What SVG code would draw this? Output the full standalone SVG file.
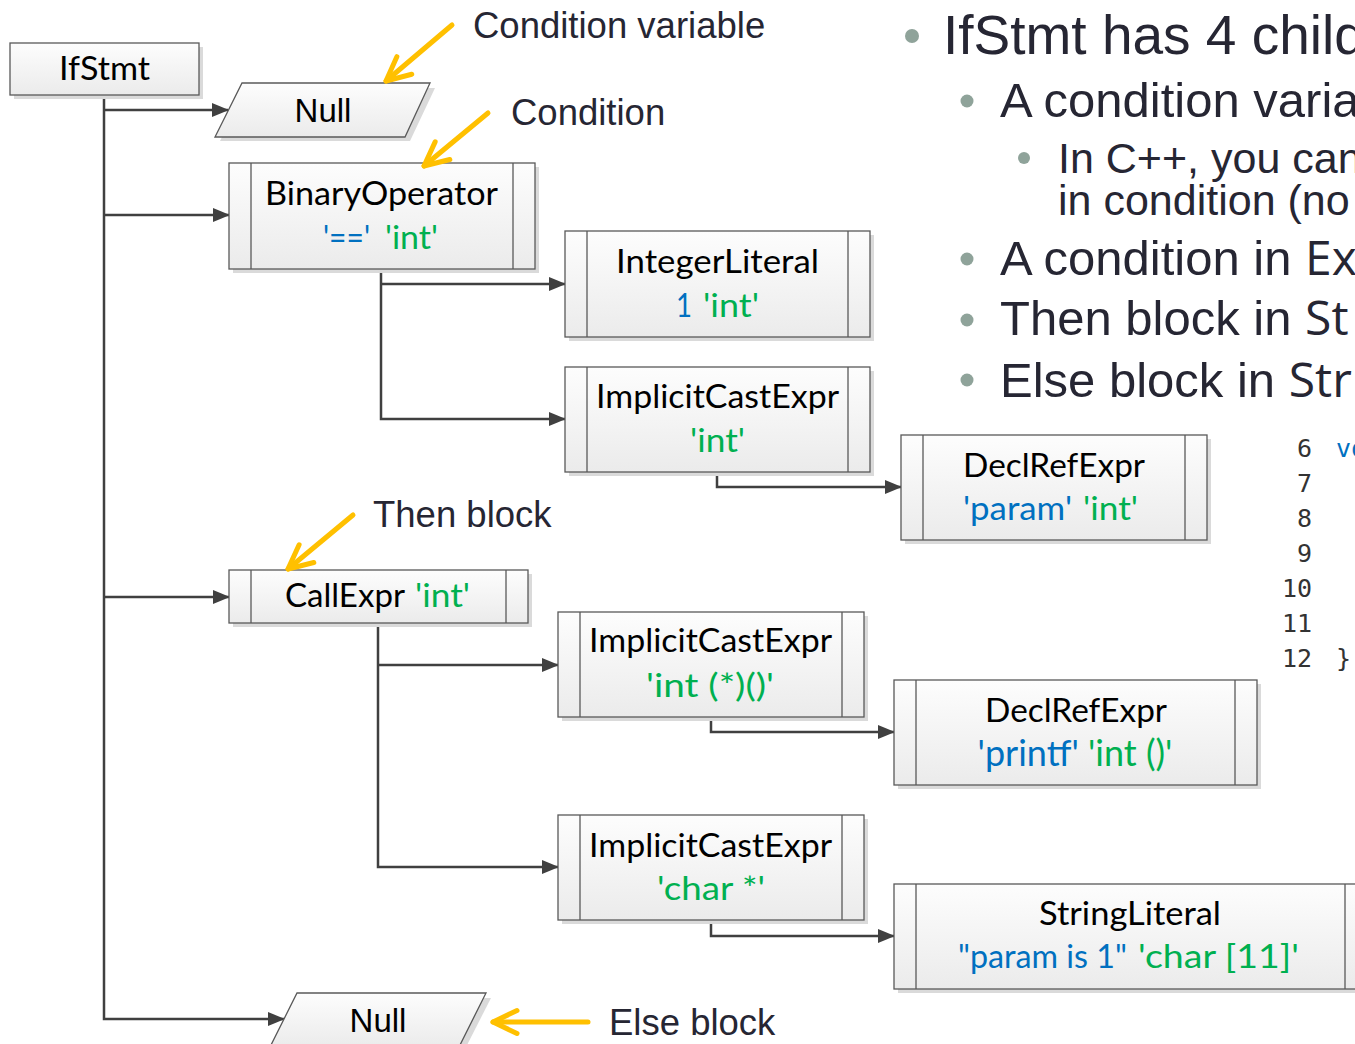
<svg xmlns="http://www.w3.org/2000/svg" width="1355" height="1044" viewBox="0 0 1355 1044">
<defs>
<linearGradient id="g" x1="0" y1="0" x2="0" y2="1">
<stop offset="0" stop-color="#fdfdfd"/>
<stop offset="1" stop-color="#ebebeb"/>
</linearGradient>
<marker id="ah" markerWidth="17" markerHeight="14" refX="16" refY="7" orient="auto" markerUnits="userSpaceOnUse">
<path d="M0,0 L17,7 L0,14 z" fill="#404040"/>
</marker>
<marker id="ya" markerWidth="40" markerHeight="40" refX="30" refY="20" orient="auto" markerUnits="userSpaceOnUse">
<path d="M6,8.5 L30,20 L6,31.5" fill="none" stroke="#FFC000" stroke-width="5" stroke-linecap="round" stroke-linejoin="round"/>
</marker>
</defs>
<style>
.box{fill:url(#g);stroke:#595959;stroke-width:1.3}
.sh{fill:#dadada}
.in{stroke:#595959;stroke-width:1.3}
.t{font-family:Lato,"Open Sans",sans-serif;font-size:32px;fill:#000}
.t2{font-family:Lato,"Open Sans",sans-serif;font-size:36px;fill:#000}
.nl{font-family:"Liberation Sans",Arial,sans-serif;font-size:33px;fill:#000;text-anchor:middle}
.b{fill:#0070C0}
.gr{fill:#00B050}
.c{fill:none;stroke:#404040;stroke-width:2.5;marker-end:url(#ah)}
.y{fill:none;stroke:#FFC000;stroke-width:5;stroke-linecap:round;marker-end:url(#ya)}
.lb{font-family:"Liberation Sans",Arial,sans-serif;font-size:36.5px;fill:#262633}
.r{font-family:"Liberation Sans",Arial,sans-serif;fill:#262633}
.os{font-family:"Open Sans",sans-serif}
.dot{fill:#8fa39a}
.code{font-family:"DejaVu Sans Mono",monospace;font-size:25px;fill:#333}
</style>

<g id="connectors">
<path class="c" d="M104,95 V1019 H284"/>
<path class="c" d="M104,110 H228"/>
<path class="c" d="M104,215 H229"/>
<path class="c" d="M104,597 H229"/>
<path class="c" d="M381,269 V419 H565"/>
<path class="c" d="M381,284 H565"/>
<path class="c" d="M717,472 V487 H901"/>
<path class="c" d="M378,623 V867 H558"/>
<path class="c" d="M378,665 H558"/>
<path class="c" d="M711,717 V732 H894"/>
<path class="c" d="M711,920 V936 H894"/>
</g>

<g id="IfStmt">
<rect class="sh" x="14" y="47" width="189" height="52"/>
<rect class="box" x="10" y="43" width="189" height="52"/>
<text class="t" x="59" y="80" textLength="91" lengthAdjust="spacingAndGlyphs">IfStmt</text>
</g>

<g id="Null1">
<polygon class="sh" points="246,88 435,88 410,141 220,141"/>
<polygon class="box" points="242,83 430,83 405,137 215,137"/>
<text class="nl" x="323" y="122">Null</text>
</g>

<g id="BinaryOperator">
<rect class="sh" x="233" y="167" width="306" height="106"/>
<rect class="box" x="229" y="163" width="306" height="106"/>
<line class="in" x1="251" y1="163" x2="251" y2="269"/>
<line class="in" x1="513" y1="163" x2="513" y2="269"/>
<text class="t" x="265" y="205" textLength="233" lengthAdjust="spacingAndGlyphs">BinaryOperator</text>
<text class="t" y="249"><tspan class="b" x="323" textLength="47" lengthAdjust="spacingAndGlyphs">'=='</tspan><tspan class="gr" x="385" textLength="53" lengthAdjust="spacingAndGlyphs">'int'</tspan></text>
</g>

<g id="IntegerLiteral">
<rect class="sh" x="569" y="235" width="305" height="106"/>
<rect class="box" x="565" y="231" width="305" height="106"/>
<line class="in" x1="587" y1="231" x2="587" y2="337"/>
<line class="in" x1="848" y1="231" x2="848" y2="337"/>
<text class="t" x="616" y="273" textLength="203" lengthAdjust="spacingAndGlyphs">IntegerLiteral</text>
<text class="t" y="317"><tspan class="b" x="676" textLength="16" lengthAdjust="spacingAndGlyphs">1</tspan><tspan class="gr" x="703" textLength="56" lengthAdjust="spacingAndGlyphs">'int'</tspan></text>
</g>

<g id="ImplicitCastExpr1">
<rect class="sh" x="569" y="371" width="305" height="105"/>
<rect class="box" x="565" y="367" width="305" height="105"/>
<line class="in" x1="587" y1="367" x2="587" y2="472"/>
<line class="in" x1="848" y1="367" x2="848" y2="472"/>
<text class="t" x="596" y="408" textLength="243" lengthAdjust="spacingAndGlyphs">ImplicitCastExpr</text>
<text class="t gr" x="690" y="452" textLength="55" lengthAdjust="spacingAndGlyphs">'int'</text>
</g>

<g id="DeclRefExpr1">
<rect class="sh" x="905" y="439" width="306" height="105"/>
<rect class="box" x="901" y="435" width="306" height="105"/>
<line class="in" x1="923" y1="435" x2="923" y2="540"/>
<line class="in" x1="1185" y1="435" x2="1185" y2="540"/>
<text class="t" x="963" y="477" textLength="182" lengthAdjust="spacingAndGlyphs">DeclRefExpr</text>
<text class="t" y="520"><tspan class="b" x="963" textLength="109" lengthAdjust="spacingAndGlyphs">'param'</tspan><tspan class="gr" x="1083" textLength="55" lengthAdjust="spacingAndGlyphs">'int'</tspan></text>
</g>

<g id="CallExpr">
<rect class="sh" x="233" y="574" width="299" height="53"/>
<rect class="box" x="229" y="570" width="299" height="53"/>
<line class="in" x1="251" y1="570" x2="251" y2="623"/>
<line class="in" x1="506" y1="570" x2="506" y2="623"/>
<text class="t" y="607"><tspan x="285" textLength="120" lengthAdjust="spacingAndGlyphs">CallExpr</tspan><tspan class="gr" x="415" textLength="55" lengthAdjust="spacingAndGlyphs">'int'</tspan></text>
</g>

<g id="ImplicitCastExpr2">
<rect class="sh" x="562" y="616" width="306" height="105"/>
<rect class="box" x="558" y="612" width="306" height="105"/>
<line class="in" x1="580" y1="612" x2="580" y2="717"/>
<line class="in" x1="842" y1="612" x2="842" y2="717"/>
<text class="t" x="589" y="652" textLength="243" lengthAdjust="spacingAndGlyphs">ImplicitCastExpr</text>
<text class="t gr" x="646" y="697" textLength="128" lengthAdjust="spacingAndGlyphs">'int (*)()'</text>
</g>

<g id="DeclRefExpr2">
<rect class="sh" x="898" y="684" width="363" height="105"/>
<rect class="box" x="894" y="680" width="363" height="105"/>
<line class="in" x1="916" y1="680" x2="916" y2="785"/>
<line class="in" x1="1235" y1="680" x2="1235" y2="785"/>
<text class="t" x="985" y="722" textLength="182" lengthAdjust="spacingAndGlyphs">DeclRefExpr</text>
<text class="t2" x="1075" y="766" text-anchor="middle"><tspan class="b">'printf'</tspan> <tspan class="gr">'int ()'</tspan></text>
</g>

<g id="ImplicitCastExpr3">
<rect class="sh" x="562" y="819" width="306" height="105"/>
<rect class="box" x="558" y="815" width="306" height="105"/>
<line class="in" x1="580" y1="815" x2="580" y2="920"/>
<line class="in" x1="842" y1="815" x2="842" y2="920"/>
<text class="t" x="589" y="857" textLength="243" lengthAdjust="spacingAndGlyphs">ImplicitCastExpr</text>
<text class="t gr" x="657" y="900" textLength="108" lengthAdjust="spacingAndGlyphs">'char *'</text>
</g>

<g id="StringLiteral">
<rect class="sh" x="898" y="888" width="473" height="105"/>
<rect class="box" x="894" y="884" width="473" height="105"/>
<line class="in" x1="916" y1="884" x2="916" y2="989"/>
<line class="in" x1="1345" y1="884" x2="1345" y2="989"/>
<text class="t" x="1039" y="925" textLength="182" lengthAdjust="spacingAndGlyphs">StringLiteral</text>
<text class="t" y="968"><tspan class="b" x="958" textLength="169" lengthAdjust="spacingAndGlyphs">"param is 1"</tspan><tspan class="gr" x="1138" textLength="161" lengthAdjust="spacingAndGlyphs">'char [11]'</tspan></text>
</g>

<g id="Null2">
<polygon class="sh" points="302,998 491,998 464,1051 275,1051"/>
<polygon class="box" points="297,993 486,993 459,1047 270,1047"/>
<text class="nl" x="378" y="1032">Null</text>
</g>

<g id="annotations">
<path class="y" d="M452,25 L386,81"/>
<path class="y" d="M488,113 L424,166"/>
<path class="y" d="M353,515 L288,569"/>
<path class="y" d="M588,1022 L493,1022"/>
<text class="lb" x="473" y="38">Condition variable</text>
<text class="lb" x="511" y="125">Condition</text>
<text class="lb" x="373" y="527">Then block</text>
<text class="lb" x="609" y="1035">Else block</text>
</g>

<g id="bullets">
<circle class="dot" cx="912" cy="36" r="7"/>
<text class="r" x="943" y="54" font-size="55">IfStmt has 4 child</text>
<circle class="dot" cx="967" cy="101" r="6.5"/>
<text class="r" x="1000" y="117" font-size="49">A condition varia</text>
<circle class="dot" cx="1024" cy="158" r="6"/>
<text class="r" x="1058" y="173" font-size="43">In C++, you can</text>
<text class="r" x="1058" y="215" font-size="43">in condition (no</text>
<circle class="dot" cx="967" cy="259" r="6.5"/>
<text class="r" x="1000" y="275" font-size="49">A condition in <tspan class="os" font-size="48">Ex</tspan></text>
<circle class="dot" cx="967" cy="320" r="6.5"/>
<text class="r" x="1000" y="335" font-size="49">Then block in <tspan class="os" font-size="48">St</tspan></text>
<circle class="dot" cx="967" cy="380" r="6.5"/>
<text class="r" x="1000" y="397" font-size="49">Else block in <tspan class="os" font-size="48">Str</tspan></text>
</g>

<g id="code">
<text class="code" x="1312" y="457" text-anchor="end">6</text>
<text class="code" x="1312" y="492" text-anchor="end">7</text>
<text class="code" x="1312" y="527" text-anchor="end">8</text>
<text class="code" x="1312" y="562" text-anchor="end">9</text>
<text class="code" x="1312" y="597" text-anchor="end">10</text>
<text class="code" x="1312" y="632" text-anchor="end">11</text>
<text class="code" x="1312" y="667" text-anchor="end">12</text>
<text class="code" x="1336" y="457" style="fill:#0070C1">vo</text>
<text class="code" x="1336" y="667">}</text>
</g>
</svg>
